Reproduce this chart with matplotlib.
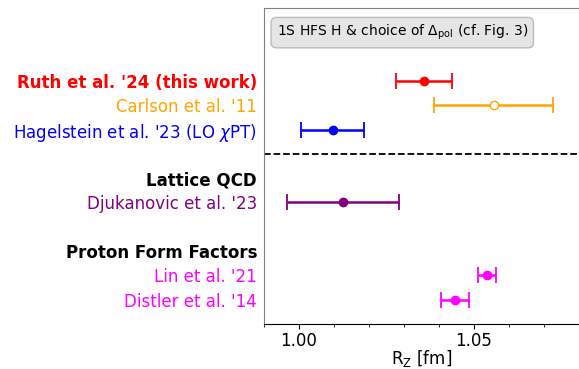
import numpy as np
import matplotlib
matplotlib.use('Agg')
from matplotlib import pyplot as plt
from matplotlib.ticker import MultipleLocator

# rows from top to bottom: label, value, error, colour
labels = ["Ruth et al. '24 (this work)", "Carlson et al. '11",
          "Hagelstein et al. '23 (LO $\\chi$PT)", "",
          "Lattice QCD", "Djukanovic et al. '23", "",
          "Proton Form Factors", "Lin et al. '21", "Distler et al. '14"]
label_colors = ['red', 'orange', 'blue', 'k', 'k', 'purple', 'k', 'k',
                'magenta', 'magenta']
label_bold = [True, False, False, False, True, False, False, True, False,
              False]

names = ["Ruth", "Carlson", "Hagelstein", "Djukanovic", "Lin", "Distler"]
rows = [0, 1, 2, 5, 8, 9]
rz = [1.0357, 1.0556, 1.0097, 1.0127, 1.0536, 1.0446]
rz_err = [0.0080, 0.0170, 0.0090, 0.0160, 0.0026, 0.0041]
colors = ['red', 'orange', 'blue', 'purple', 'magenta', 'magenta']
open_marker = [False, True, False, False, False, False]

fig = plt.figure(figsize=(5.79, 3.69), dpi=100)
ax = fig.add_axes([264 / 579, 45 / 369, 1 - 264 / 579, 316 / 369])

for r, x, e, c, o in zip(rows, rz, rz_err, colors, open_marker):
    ax.errorbar(x, r, xerr=e, fmt='o', color=c, mfc='white' if o else c,
                ms=6, capsize=6, elinewidth=1.8, capthick=1.3)

ax.axhline(3, color='k', ls='--', lw=1.3)

ax.set_yticks(range(len(labels)))
ax.set_yticklabels(labels, fontsize=12)
for t, c, b in zip(ax.get_yticklabels(), label_colors, label_bold):
    t.set_color(c)
    if b:
        t.set_fontweight('bold')
ax.tick_params(axis='y', length=0, pad=5)

ax.set_ylim(10, -3)
ax.set_xlim(0.99, 1.08)
ax.xaxis.set_major_locator(MultipleLocator(0.05))
ax.xaxis.set_minor_locator(MultipleLocator(0.01))
ax.xaxis.set_major_formatter(matplotlib.ticker.FormatStrFormatter('%.2f'))
ax.tick_params(axis='x', labelsize=12, length=3.5, pad=2)
ax.tick_params(axis='x', which='minor', length=2)
ax.set_xlabel(r'R$_{\mathrm{Z}}$ [fm]', fontsize=12, labelpad=-1)

ax.spines['right'].set_visible(False)
ax.spines['left'].set_color('grey')
ax.spines['top'].set_color('grey')

ax.text(0.04, 0.922, r'1S HFS H & choice of $\Delta_{\mathrm{pol}}$ (cf. Fig. 3)',
        transform=ax.transAxes, fontsize=10, va='center', ha='left',
        bbox=dict(boxstyle='round,pad=0.4', fc='#e5e5e5', ec='#bbbbbb'))

plt.savefig('out.png', dpi=100)
